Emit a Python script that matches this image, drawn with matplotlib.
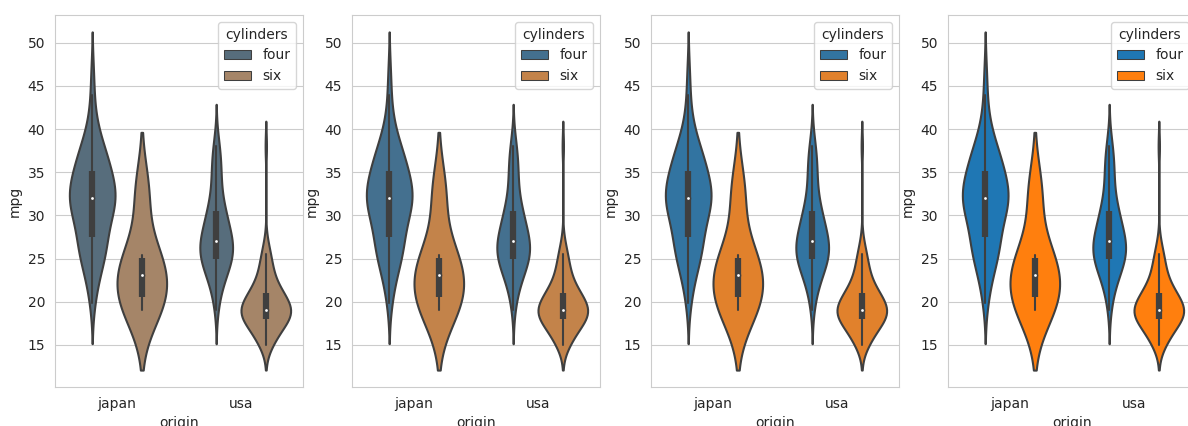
import matplotlib
matplotlib.use("Agg")
import matplotlib.pyplot as plt
import seaborn as sns
import numpy as np
import colorsys

# mpg values per origin / cylinders group
japan_four = [19.8, 21.1, 22.0, 23.0, 24.0, 24.0, 24.5, 25.0, 25.0, 25.5,
              26.0, 26.0, 26.5, 27.0, 27.0, 27.0, 27.2, 27.5, 28.0, 29.0,
              29.0, 29.5, 29.5, 29.8, 30.0, 30.0, 30.5, 31.0, 31.0, 31.0,
              31.3, 31.5, 31.6, 31.8, 32.0, 32.0, 32.0, 32.2, 32.4, 32.7,
              32.9, 33.0, 33.0, 33.5, 33.7, 34.0, 34.0, 34.1, 34.4, 34.8,
              35.0, 35.1, 35.5, 36.0, 36.0, 36.1, 36.4, 37.0, 37.2, 37.3,
              37.7, 38.0, 38.1, 39.1, 39.4, 40.8, 41.5, 44.0, 46.6]
japan_six = [19.0, 20.0, 22.0, 24.2, 25.4, 32.7]
usa_four = [19.0, 20.0, 21.0, 21.5, 22.0, 22.0, 22.5, 23.0, 23.0, 23.5,
            23.9, 24.0, 24.0, 24.0, 24.3, 24.5, 24.5, 24.8, 25.0, 25.0,
            25.0, 25.1, 25.4, 25.5, 25.8, 26.0, 26.0, 26.0, 26.0, 26.4,
            26.5, 26.6, 26.8, 27.0, 27.0, 27.0, 27.0, 27.2, 27.4, 27.5,
            27.9, 28.0, 28.0, 28.0, 28.4, 28.8, 29.0, 29.0, 29.5, 29.9,
            30.0, 30.0, 30.0, 30.5, 30.5, 30.7, 31.0, 31.5, 32.0, 32.5,
            33.0, 33.5, 34.0, 34.5, 35.0, 35.5, 36.0, 36.5, 37.0, 37.5,
            38.0, 39.0]
usa_six = [15.0, 15.0, 15.0, 15.5, 16.0, 16.0, 16.0, 16.0, 16.5, 16.9,
           17.0, 17.0, 17.0, 17.5, 17.5, 17.6, 17.7, 18.0, 18.0, 18.0,
           18.0, 18.0, 18.1, 18.2, 18.5, 18.5, 18.6, 18.6, 18.8, 19.0,
           19.0, 19.0, 19.0, 19.0, 19.0, 19.0, 19.0, 19.1, 19.2, 19.2,
           19.4, 19.8, 20.0, 20.0, 20.0, 20.0, 20.2, 20.2, 20.5, 20.6,
           20.8, 21.0, 21.0, 21.0, 21.0, 21.0, 21.1, 21.5, 22.0, 22.0,
           22.0, 22.4, 23.0, 23.0, 23.2, 23.5, 24.0, 24.5, 24.8, 25.0,
           25.5, 26.0, 26.8, 38.0]

origins = ["japan", "usa"]
cylinders = ["four", "six"]
base_colors = ["#1f77b4", "#ff7f0e"]
saturations = [0.25, 0.5, 0.75, 1.0]

groups = [[japan_four, japan_six], [usa_four, usa_six]]

sns.set_style("whitegrid")


def kde(values, cut=2, gridsize=100):
    x = np.asarray(values, dtype=float)
    bw = x.std(ddof=1) * len(x) ** (-1 / 5)
    support = np.linspace(x.min() - cut * bw, x.max() + cut * bw, gridsize)
    z = (support[:, None] - x[None, :]) / bw
    dens = np.exp(-0.5 * z ** 2).sum(axis=1) / (len(x) * bw * np.sqrt(2 * np.pi))
    return support, dens


def violins(ax, sat, lw=1.5, width=0.8):
    colors = [sns.desaturate(c, sat) for c in base_colors]
    lum = min(colorsys.rgb_to_hls(*c)[1] for c in colors) * 0.6
    gray = (lum, lum, lum)
    n = len(cylinders)
    each = width / n
    offsets = np.linspace(0, width - each, n) - (width - each) / 2
    dwidth = width / (2 * n)
    for i, grp in enumerate(groups):
        kdes = [kde(v) for v in grp]
        peak = max(d.max() for _, d in kdes)
        for j, (vals, (sup, dens)) in enumerate(zip(grp, kdes)):
            c = i + offsets[j]
            d = dens / peak * dwidth
            ax.fill_betweenx(sup, c - d, c + d, facecolor=colors[j],
                             edgecolor=gray, linewidth=lw)
            x = np.asarray(vals)
            q25, q50, q75 = np.percentile(x, [25, 50, 75])
            lim = 1.5 * (q75 - q25)
            h1 = x[x >= q25 - lim].min()
            h2 = x[x <= q75 + lim].max()
            ax.plot([c, c], [h1, h2], color=gray, linewidth=lw)
            ax.plot([c, c], [q25, q75], color=gray, linewidth=lw * 3,
                    solid_capstyle="butt")
            ax.scatter(c, q50, zorder=3, color="white", edgecolor=gray,
                       s=(lw * 2) ** 2)
    handles = [plt.Rectangle((0, 0), 0, 0, linewidth=lw / 2, edgecolor=gray,
                             facecolor=colors[j], label=cylinders[j])
               for j in range(n)]
    ax.legend(handles=handles, title="cylinders", loc="upper right",
              fontsize=10, title_fontsize=10)
    ax.set_xticks(range(len(origins)))
    ax.set_xticklabels(origins)
    ax.set_xlim(-0.5, len(origins) - 0.5)
    ax.xaxis.grid(False)
    ax.set_xlabel("origin", fontsize=10)
    ax.set_ylabel("mpg", fontsize=10)
    ax.tick_params(labelsize=10)


fig, axes = plt.subplots(1, 4, figsize=(11.88, 4.26), dpi=100)
lefts = [55, 352, 651, 948]
for ax, left, sat in zip(axes, lefts, saturations):
    violins(ax, sat)
    ax.set_position([left / 1188, 1 - 387 / 426, 248 / 1188, 372 / 426])

fig.savefig("out.png", dpi=100)
